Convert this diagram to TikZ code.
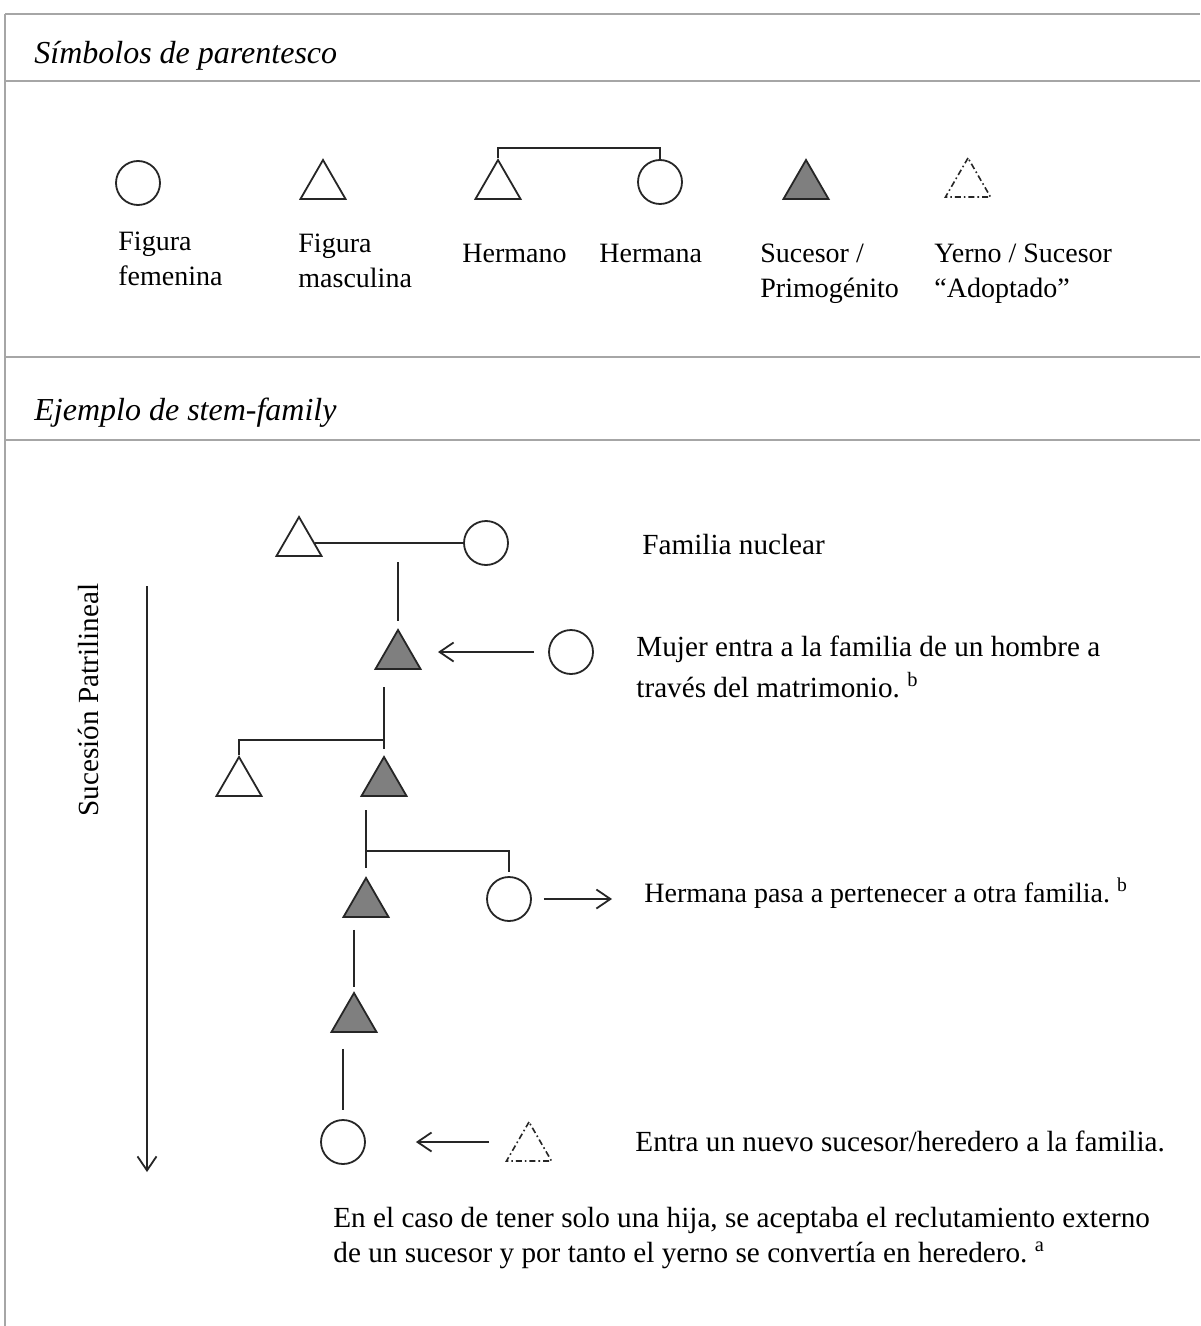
\documentclass[tikz,border=0pt]{standalone}
\usepackage{fontspec}
\setmainfont{Liberation Serif}
\usetikzlibrary{shapes.geometric,arrows.meta}
\definecolor{rulegray}{HTML}{A6A6A6}
\definecolor{ink}{HTML}{262626}
\definecolor{sucfill}{HTML}{7F7F7F}
\begin{document}
\begin{tikzpicture}[x=0.5pt,y=-0.5pt,
  rulel/.style={draw=rulegray,line width=1pt},
  fem/.style={circle,draw=ink,line width=0.9pt,minimum size=22pt,inner sep=0pt},
  masc/.style={regular polygon,regular polygon sides=3,draw=ink,line width=0.9pt,minimum size=26pt,inner sep=0pt},
  suc/.style={masc,fill=sucfill},
  adop/.style={masc,line width=0.8pt,dash pattern=on 3pt off 1.5pt on 0.8pt off 1.5pt},
  link/.style={draw=ink,line width=0.9pt},
  arr/.style={link,-{Straight Barb[length=7pt,width=9.5pt]}},
  txt/.style={font=\fontsize{14}{17.5}\selectfont,inner sep=0pt,anchor=base west,align=left,text=black},
  bigtxt/.style={txt,font=\fontsize{14.6}{17.5}\selectfont},
  head/.style={font=\fontsize{16}{19}\selectfont\itshape,inner sep=0pt,anchor=base west}]
\useasboundingbox[fill=white] (0,0) rectangle (1200,1326);

% frame rules
\draw[rulel] (5,14) -- (1200,14);
\draw[rulel] (5,81) -- (1200,81);
\draw[rulel] (5,357) -- (1200,357);
\draw[rulel] (5,440) -- (1200,440);
\draw[rulel] (5,14) -- (5,1326);

\node[head] (h1) at (34,64) {Símbolos de parentesco};
\node[head] (h2) at (34,420) {Ejemplo de stem-family};

% legend
\node[fem] (lf) at (138,183) {};
\node[masc] (lm) at (323,186) {};
\node[masc] (lh1) at (498,186) {};
\node[fem] (lh2) at (660,182) {};
\coordinate (lsib) at (498,148);
\draw[link] (lh1.north) -- (lsib) -| (lh2.north);
\node[suc] (ls) at (806,186) {};
\node[adop] (la) at (968,184) {};

\node[txt] (tlf) at (118,286) {Figura\\femenina};
\node[txt] (tlm) at (298,288) {Figura\\masculina};
\node[txt] (tlh1) at (462,263) {Hermano};
\node[txt] (tlh2) at (599,263) {Hermana};
\node[txt] (tls) at (760,298) {Sucesor /\\Primogénito};
\node[txt] (tla) at (934,298) {Yerno / Sucesor\\“Adoptado”};

% stem family
\node[masc] (t1) at (299,543) {};
\node[fem] (c1) at (486,543) {};
\draw[link] (t1) -- (c1);
\coordinate (m1) at (398,562);
\node[suc] (s1) at (398,656) {};
\draw[link,shorten >=3.5pt] (m1) -- (s1.north);
\node[fem] (c2) at (571,652) {};
\draw[arr,shorten <=7pt,shorten >=20pt] (c2.west) -- (c2 -| s1);

\coordinate (m2) at (384,687);
\coordinate (j2) at (384,740);
\node[masc] (b1) at (239,783) {};
\node[suc] (s2) at (384,783) {};
\draw[link,shorten >=3pt] (m2) -- (s2.north);
\draw[link] (j2) -| (b1.north);

\coordinate (m3) at (366,810);
\coordinate (j3) at (366,851);
\node[suc] (s3) at (366,904) {};
\node[fem] (c3) at (509,899) {};
\draw[link,shorten >=4pt] (m3) -- (s3.north);
\draw[link,shorten >=2pt] (j3) -| (c3.north);
\coordinate (o3) at (612,899);
\draw[arr,shorten <=6pt] (c3.east) -- (o3);

\node[suc] (s4) at (354,1019) {};
\draw[link,shorten <=6pt,shorten >=2pt] (s4.north |- s3.south) -- (s4.north);
\node[fem] (c4) at (343,1142) {};
\draw[link,shorten <=8pt,shorten >=4.5pt] (c4.north |- s4.south) -- (c4.north);
\node[adop] (a2) at (529,1148) {};
\draw[arr,shorten <=20pt,shorten >=25pt] (c4 -| a2) -- (c4);

% vertical succession arrow
\coordinate (vt) at (147,586);
\coordinate (vb) at (147,1172);
\draw[arr] (vt) -- (vb);
\node[bigtxt,rotate=90,anchor=center] (vl) at (88,700) {Sucesión Patrilineal};

% explanations
\node[bigtxt] (e1) at (642,554) {Familia nuclear};
\node[bigtxt,font=\fontsize{14.6}{20.5}\selectfont] (e2) at (636,697) {Mujer entra a la familia de un hombre a\\través del matrimonio.~\textsuperscript{b}};
\node[txt] (e3) at (644,902) {Hermana pasa a pertenecer a otra familia.~\textsuperscript{b}};
\node[bigtxt] (e4) at (635,1151) {Entra un nuevo sucesor/heredero a la familia.};
\node[bigtxt] (e5) at (333,1262) {En el caso de tener solo una hija, se aceptaba el reclutamiento externo\\de un sucesor y por tanto el yerno se convertía en heredero.~\textsuperscript{a}};
\end{tikzpicture}
\end{document}
